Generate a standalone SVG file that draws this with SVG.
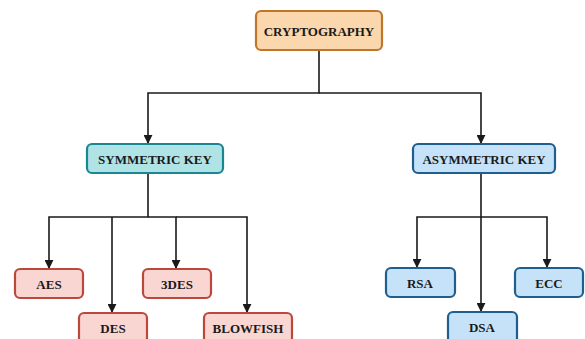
<svg xmlns="http://www.w3.org/2000/svg" width="585" height="339" viewBox="0 0 585 339">
<defs>
<style>
.box{stroke-width:2.2}
.orange{fill:#fad7ac;stroke:#c0762a}
.teal{fill:#b0e3e6;stroke:#1a8690}
.red{fill:#fad6d2;stroke:#b8493c}
.blue{fill:#c6e2f8;stroke:#1f5f8f}
text{font-family:"Liberation Serif","Times New Roman",serif;font-weight:bold;font-size:13px;fill:#1a1a1a;text-anchor:middle;dominant-baseline:central}
.conn{fill:none;stroke:#1a1a1a;stroke-width:1.6}
</style>
<marker id="arr" viewBox="0 0 10 10" refX="9" refY="5" markerWidth="9" markerHeight="9" markerUnits="userSpaceOnUse" orient="auto">
<path d="M0,0 L10,5 L0,10 z" fill="#1a1a1a"/>
</marker>
</defs>
<rect width="585" height="339" fill="#ffffff"/>
<g id="connectors">
<path class="conn" d="M319,50 V93 H148 V143" marker-end="url(#arr)"/>
<path class="conn" d="M319,93 H481 V143" marker-end="url(#arr)"/>
<path class="conn" d="M148,173 V217 H49 V268" marker-end="url(#arr)"/>
<path class="conn" d="M112,217 V312" marker-end="url(#arr)"/>
<path class="conn" d="M148,217 H176 V268" marker-end="url(#arr)"/>
<path class="conn" d="M176,217 H247 V312" marker-end="url(#arr)"/>
<path class="conn" d="M481,173 V217 H417 V267" marker-end="url(#arr)"/>
<path class="conn" d="M481,217 V311" marker-end="url(#arr)"/>
<path class="conn" d="M481,217 H547 V267" marker-end="url(#arr)"/>
</g>
<g id="cryptography"><rect class="box orange" x="256" y="11" width="126" height="39" rx="5"/><text x="319" y="31">CRYPTOGRAPHY</text></g>
<g id="symmetric"><rect class="box teal" x="87" y="144" width="136" height="29" rx="5"/><text x="155" y="159">SYMMETRIC KEY</text></g>
<g id="asymmetric"><rect class="box blue" x="413" y="144" width="142" height="29" rx="5"/><text x="484" y="159">ASYMMETRIC KEY</text></g>
<g id="aes"><rect class="box red" x="15" y="269" width="68" height="29" rx="5"/><text x="49" y="284">AES</text></g>
<g id="des"><rect class="box red" x="79" y="313" width="68" height="32" rx="5"/><text x="113" y="328">DES</text></g>
<g id="3des"><rect class="box red" x="143" y="269" width="68" height="29" rx="5"/><text x="177" y="284">3DES</text></g>
<g id="blowfish"><rect class="box red" x="204" y="313" width="88" height="32" rx="5"/><text x="248" y="328">BLOWFISH</text></g>
<g id="rsa"><rect class="box blue" x="386" y="268" width="69" height="29" rx="5"/><text x="420" y="283">RSA</text></g>
<g id="dsa"><rect class="box blue" x="448" y="312" width="69" height="32" rx="5"/><text x="482" y="327">DSA</text></g>
<g id="ecc"><rect class="box blue" x="515" y="268" width="68" height="29" rx="5"/><text x="549" y="283">ECC</text></g>
</svg>
